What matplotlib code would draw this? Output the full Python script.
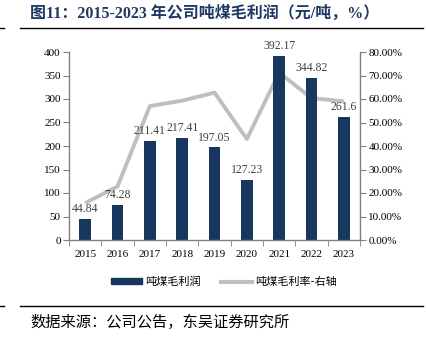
import matplotlib
matplotlib.use("Agg")
import matplotlib.pyplot as plt
from matplotlib.ticker import FuncFormatter
from matplotlib.lines import Line2D
from matplotlib.patches import Patch

years = ["2015", "2016", "2017", "2018", "2019", "2020", "2021", "2022", "2023"]
profit = [44.84, 74.28, 211.41, 217.41, 197.05, 127.23, 392.17, 344.82, 261.6]
margin = [15.7, 22.8, 57.0, 59.3, 62.7, 43.0, 71.2, 60.4, 59.0]
labels = ["44.84", "74.28", "211.41", "217.41", "197.05", "127.23", "392.17", "344.82", "261.6"]

serif = ["Liberation Serif", "Noto Sans CJK SC"]
cjk = ["Noto Sans CJK SC", "Liberation Serif"]
navy = "#17375E"
grey_line = "#BFBFBF"
spine_c = "#808080"

fig = plt.figure(figsize=(4.27, 3.39), dpi=100)
ax = fig.add_axes([69/427, 1-240/339, (360-69)/427, (240-52)/339])
ax2 = ax.twinx()

x = list(range(len(years)))
ax.bar(x, profit, width=0.37, color=navy, zorder=2)
ax.set_zorder(ax2.get_zorder() + 1)
ax.patch.set_visible(False)
ax2.plot(x, margin, color=grey_line, lw=2.8, solid_capstyle="butt", zorder=1)

for xi, v, s in zip(x, profit, labels):
    ax.text(xi, v + 8, s, ha="center", va="bottom", fontsize=8.5,
            family=serif, color="#404040", clip_on=False, zorder=5)

ax.set_xlim(-0.5, 8.5)
ax.set_ylim(0, 400)
ax.set_yticks(range(0, 401, 50))
ax2.set_ylim(0, 80)
ax2.set_yticks(range(0, 81, 10))
ax2.yaxis.set_major_formatter(FuncFormatter(lambda v, p: f"{v:.2f}%"))

ax.set_xticks(x)
ax.set_xticklabels(years)
ax.set_xticks([i + 0.5 for i in range(-1, 9)], minor=True)
ax.tick_params(axis="x", which="major", length=0, pad=7)
ax.tick_params(axis="x", which="minor", length=4, direction="out", color=spine_c)
ax.tick_params(axis="y", length=4, direction="out", color=spine_c, pad=2)
ax2.tick_params(axis="y", length=4, direction="out", color=spine_c, pad=2)

for a in (ax, ax2):
    for lab in a.get_xticklabels() + a.get_yticklabels():
        lab.set_family(serif)
        lab.set_fontsize(8)
        lab.set_color("#000000")
    a.spines["top"].set_visible(False)
    for s in ("left", "right", "bottom"):
        a.spines[s].set_color(spine_c)
        a.spines[s].set_linewidth(1)
ax.spines["right"].set_visible(False)
ax2.spines["left"].set_visible(False)
ax2.spines["bottom"].set_visible(False)

# legend
handles = [Patch(color=navy), Line2D([0], [0], color=grey_line, lw=3)]
fig.legend(handles, ["吨煤毛利润", "吨煤毛利率-右轴"], loc="center",
           bbox_to_anchor=(224/427, 1-282/339), ncol=2, frameon=False,
           prop={"family": cjk, "size": 8}, handlelength=2.8, handleheight=0.4,
           columnspacing=1.8, handletextpad=0.3)

# title and frame lines
fig.text(30/427, 1-14/339, "图11：2015-2023 年公司吨煤毛利润（元/吨，%）",
         ha="left", va="center", fontsize=11.5, fontweight="bold",
         family=serif, color="#1F3864")
fig.add_artist(Line2D([20/427, 423/427], [1-28/339, 1-28/339], color="#000000", lw=1))
fig.add_artist(Line2D([0, 4/427], [1-28/339, 1-28/339], color="#000000", lw=1))
fig.add_artist(Line2D([20/427, 423/427], [1-306/339, 1-306/339], color="#000000", lw=1))
fig.add_artist(Line2D([0, 4/427], [1-306/339, 1-306/339], color="#000000", lw=1))
fig.text(30/427, 1-322/339, "数据来源：公司公告，东吴证券研究所", ha="left", va="center",
         fontsize=11, family=cjk, color="#000000")

fig.savefig("out.png", dpi=100)
